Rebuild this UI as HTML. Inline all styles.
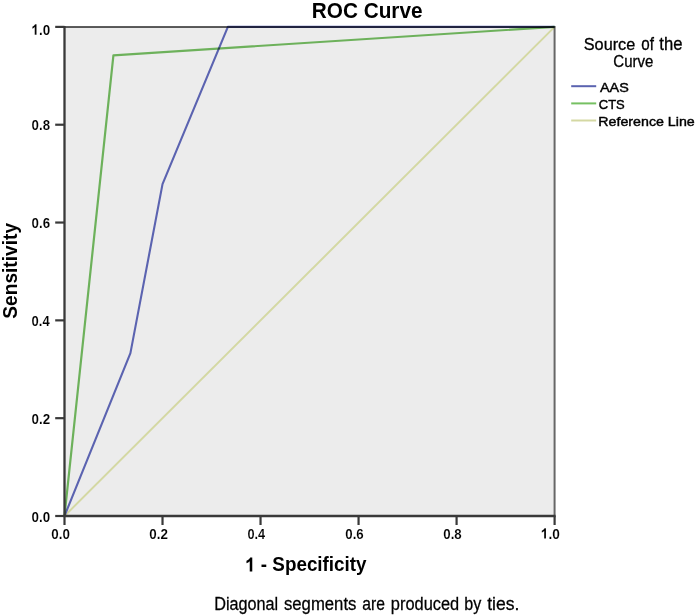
<!DOCTYPE html>
<html><head><meta charset="utf-8"><style>
html,body{margin:0;padding:0;background:#fff;width:696px;height:616px;overflow:hidden}
svg{display:block}
text{font-family:"Liberation Sans",sans-serif;fill:#000}
</style></head><body>
<svg width="696" height="616" viewBox="0 0 696 616">
<rect x="0" y="0" width="696" height="616" fill="#fff"/>
<rect x="64.5" y="26.9" width="490.1" height="489.1" fill="#ececec"/>
<line x1="64.5" y1="516.0" x2="554.6" y2="26.899999999999977" stroke="#d4d8a3" stroke-width="2"/>
<polyline points="64.50,516.00 130.42,353.13 162.52,184.10 227.87,26.90 554.60,26.90" fill="none" stroke="#5b63b0" stroke-width="2.1" stroke-linejoin="round"/>
<polyline points="64.50,516.00 113.41,55.30 554.60,26.90" fill="none" stroke="#76c062" stroke-width="2.2" stroke-linejoin="round" style="mix-blend-mode:multiply"/>
<line x1="64.5" y1="26.9" x2="555.6" y2="26.9" stroke="#000" stroke-opacity="0.63" stroke-width="2"/>
<line x1="554.6" y1="27.9" x2="554.6" y2="516.0" stroke="#000" stroke-opacity="0.58" stroke-width="2"/>
<line x1="64.5" y1="25.9" x2="64.5" y2="517.0" stroke="#393939" stroke-width="2.3"/>
<line x1="63.5" y1="516.0" x2="555.6" y2="516.0" stroke="#393939" stroke-width="2.3"/>
<g stroke="#393939" stroke-width="2.2">
<line x1="55.2" y1="516.00" x2="64.5" y2="516.00"/>
<line x1="64.50" y1="516.0" x2="64.50" y2="525"/>
<line x1="55.2" y1="418.18" x2="64.5" y2="418.18"/>
<line x1="162.52" y1="516.0" x2="162.52" y2="525"/>
<line x1="55.2" y1="320.36" x2="64.5" y2="320.36"/>
<line x1="260.54" y1="516.0" x2="260.54" y2="525"/>
<line x1="55.2" y1="222.54" x2="64.5" y2="222.54"/>
<line x1="358.56" y1="516.0" x2="358.56" y2="525"/>
<line x1="55.2" y1="124.72" x2="64.5" y2="124.72"/>
<line x1="456.58" y1="516.0" x2="456.58" y2="525"/>
<line x1="55.2" y1="26.90" x2="64.5" y2="26.90"/>
<line x1="554.60" y1="516.0" x2="554.60" y2="525"/>
</g>
<line x1="571.2" y1="86.2" x2="596.2" y2="86.2" stroke="#5b63b0" stroke-width="2"/>
<line x1="571.2" y1="103.4" x2="596.2" y2="103.4" stroke="#76c062" stroke-width="2"/>
<line x1="571.2" y1="120.5" x2="596.2" y2="120.5" stroke="#d4d8a3" stroke-width="2"/>
<g transform="matrix(0.9893 0 0 1.0756 311.74 17.73)"><text font-size="21" font-weight="bold">ROC Curve</text></g>
<g transform="matrix(0.9632 0 0 1.0759 31.44 34.73)"><path d="M773 0H498V1037Q347 896 143 829V1078Q250 1113 376 1211Q501 1310 548 1409H773Z" stroke="#fff" stroke-width="17.55" transform="scale(0.00684 -0.00684)"/><text x="7.786" font-size="14" font-weight="bold" stroke="#fff" stroke-width="0.12">.0</text></g>
<g transform="matrix(0.9487 0 0 1.0759 31.60 130.43)"><text font-size="14" font-weight="bold" stroke="#fff" stroke-width="0.12">0.8</text></g>
<g transform="matrix(0.9487 0 0 1.0759 31.60 228.33)"><text font-size="14" font-weight="bold" stroke="#fff" stroke-width="0.12">0.6</text></g>
<g transform="matrix(0.9308 0 0 1.0759 31.60 326.23)"><text font-size="14" font-weight="bold" stroke="#fff" stroke-width="0.12">0.4</text></g>
<g transform="matrix(0.9548 0 0 1.0759 31.60 424.13)"><text font-size="14" font-weight="bold" stroke="#fff" stroke-width="0.12">0.2</text></g>
<g transform="matrix(0.9548 0 0 1.0851 31.60 522.02)"><text font-size="14" font-weight="bold" stroke="#fff" stroke-width="0.12">0.0</text></g>
<g transform="matrix(0.9548 0 0 1.0575 51.30 538.54)"><text font-size="14" font-weight="bold" stroke="#fff" stroke-width="0.12">0.0</text></g>
<g transform="matrix(0.9548 0 0 1.0575 149.30 538.54)"><text font-size="14" font-weight="bold" stroke="#fff" stroke-width="0.12">0.2</text></g>
<g transform="matrix(0.9107 0 0 1.0575 247.40 538.54)"><text font-size="14" font-weight="bold" stroke="#fff" stroke-width="0.12">0.4</text></g>
<g transform="matrix(0.9487 0 0 1.0575 345.30 538.54)"><text font-size="14" font-weight="bold" stroke="#fff" stroke-width="0.12">0.6</text></g>
<g transform="matrix(0.9487 0 0 1.0575 443.30 538.54)"><text font-size="14" font-weight="bold" stroke="#fff" stroke-width="0.12">0.8</text></g>
<g transform="matrix(0.9737 0 0 1.0575 540.83 538.54)"><path d="M773 0H498V1037Q347 896 143 829V1078Q250 1113 376 1211Q501 1310 548 1409H773Z" stroke="#fff" stroke-width="17.55" transform="scale(0.00684 -0.00684)"/><text x="7.786" font-size="14" font-weight="bold" stroke="#fff" stroke-width="0.12">.0</text></g>
<g transform="matrix(0.9915 0 0 1.0667 245.16 571.47)"><path d="M773 0H498V1037Q347 896 143 829V1078Q250 1113 376 1211Q501 1310 548 1409H773Z" transform="scale(0.00928 -0.00928)"/><text x="15.846" font-size="19" font-weight="bold">- Specificity</text></g>
<g transform="matrix(0 -1.0090 1.0837 0 16.50 318.73)"><text font-size="19" font-weight="bold">Sensitivity</text></g>
<g transform="matrix(0.9568 0 0 1.0122 583.75 49.75)"><text font-size="17" stroke="#000" stroke-width="0.3">Source</text></g>
<g transform="matrix(0.8945 0 0 1.0614 641.34 49.73)"><text font-size="17" stroke="#000" stroke-width="0.3">of</text></g>
<g transform="matrix(0.9792 0 0 1.0510 659.28 49.74)"><text font-size="17" stroke="#000" stroke-width="0.3">the</text></g>
<g transform="matrix(0.8818 0 0 0.9796 613.34 66.56)"><text font-size="17" stroke="#000" stroke-width="0.3">Curve</text></g>
<g transform="matrix(1.0296 0 0 0.9253 599.96 91.75)"><text font-size="14" stroke="#000" stroke-width="0.45">AAS</text></g>
<g transform="matrix(0.9290 0 0 0.9446 598.74 108.85)"><text font-size="14" stroke="#000" stroke-width="0.45">CTS</text></g>
<g transform="matrix(1.0168 0 0 0.9116 598.31 126.26)"><text font-size="14" stroke="#000" stroke-width="0.45">Reference Line</text></g>
<text font-size="17" stroke="#000" stroke-width="0.25" transform="matrix(0.9547 0 0 1.0667 214.19 609.87)">Diagonal</text>
<text font-size="17" stroke="#000" stroke-width="0.25" transform="matrix(0.9845 0 0 1.0667 283.91 609.87)">segments</text>
<text font-size="17" stroke="#000" stroke-width="0.25" transform="matrix(0.9211 0 0 1.0667 362.31 609.87)">are</text>
<text font-size="17" stroke="#000" stroke-width="0.25" transform="matrix(0.9661 0 0 1.0667 390.81 609.87)">produced</text>
<text font-size="17" stroke="#000" stroke-width="0.25" transform="matrix(0.9493 0 0 1.0667 464.23 609.87)">by</text>
<text font-size="17" stroke="#000" stroke-width="0.25" transform="matrix(1.0349 0 0 1.0667 487.14 609.87)">ties.</text>
</svg>
</body></html>
